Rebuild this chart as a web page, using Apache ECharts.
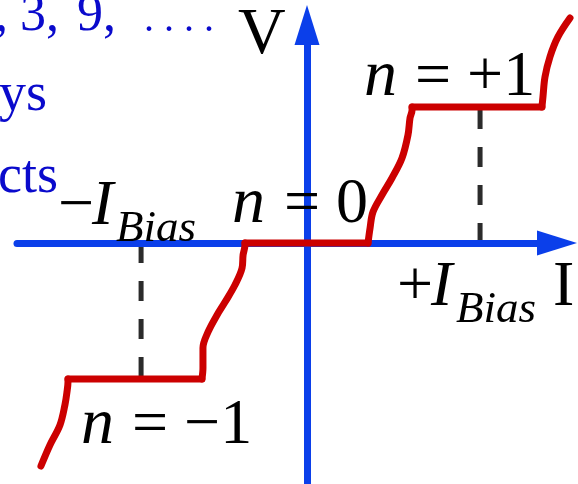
<!DOCTYPE html>
<html>
<head>
<meta charset="utf-8">
<script src="https://cdn.jsdelivr.net/npm/echarts@6/dist/echarts.min.js"></script>
<style>
  html, body { margin: 0; padding: 0; background: #ffffff; }
  #chart { width: 578px; height: 484px; }
</style>
</head>
<body>
<div id="chart"></div>
<script>
// I–V trace with Shapiro steps.
// Current in units of I_Bias, voltage in units of one step height.
const traceCurrent = [
  -1.565, -1.512, -1.453, -1.424, -1.412, -1.406, -1.406,
  -0.618, -0.612, -0.612, -0.582, -0.529, -0.482, -0.424, -0.382, -0.376, -0.365, -0.365,
   0.359,  0.371,  0.388,  0.441,  0.500,  0.559,  0.594,  0.606,  0.618,  0.618,
   1.382,  1.388,  1.400,  1.429,  1.476,  1.547
];
const traceVoltage = [
  -1.640, -1.485, -1.338, -1.191, -1.096, -1.022, -1.000,
  -1.000, -0.919, -0.772, -0.654, -0.529, -0.434, -0.309, -0.184, -0.088, -0.015,  0.000,
   0.000,  0.110,  0.228,  0.353,  0.478,  0.625,  0.794,  0.919,  0.978,  1.000,
   1.000,  1.074,  1.221,  1.368,  1.515,  1.654
];

// Bias points and the step each one sits on
const biasCurrents = [-0.976, 1.018];
const biasSteps = [-1, 1];

// Annotation texts
const stepLabels = ['n = 0', 'n = +1', 'n = \u22121'];
const sideText = [',', '3,', '9,', '. . . .', 'ys', 'cts'];

const AXIS_BLUE = '#0b3fea';
const TRACE_RED = '#cc0000';
const TEXT_BLUE = '#0a0acc';
const SERIF = '"Liberation Serif", "Times New Roman", serif';

// Both grids share one scale: 170 px per I_Bias, 136 px per step.
// Grid 0 carries the visible arrowed axes, grid 1 spans the whole canvas
// so the trace can run past the arrow heads.
const PX_PER_I = 170, PX_PER_V = 136;
const ORIGIN_X = 307, ORIGIN_Y = 243, W = 578, H = 484;
const frame = { left: 17, right: 21, top: 25, bottom: 0 };
function rangeFor(g) {
  return {
    xMin: (g.left - ORIGIN_X) / PX_PER_I,
    xMax: (W - g.right - ORIGIN_X) / PX_PER_I,
    yMin: (ORIGIN_Y - (H - g.bottom)) / PX_PER_V,
    yMax: (ORIGIN_Y - g.top) / PX_PER_V
  };
}
const full = { left: 0, right: 0, top: 0, bottom: 0 };
const r0 = rangeFor(frame), r1 = rangeFor(full);

const chart = echarts.init(document.getElementById('chart'), null, { renderer: 'canvas' });

const tracePoints = traceCurrent.map((c, i) => [c, traceVoltage[i]]);

// Split the trace into flat steps (straight) and risers (smoothed)
const pieces = [];
let current = [tracePoints[0]];
for (let i = 1; i < tracePoints.length; i++) {
  const a = tracePoints[i - 1], b = tracePoints[i];
  const isStep = a[1] === b[1] && Math.abs(b[0] - a[0]) > 0.1;
  if (isStep) {
    if (current.length > 1) pieces.push({ pts: current, flat: false });
    pieces.push({ pts: [a, b], flat: true });
    current = [b];
  } else {
    current.push(b);
  }
}
if (current.length > 1) pieces.push({ pts: current, flat: false });

const traceSeries = pieces.map(p => ({
  type: 'line',
  xAxisIndex: 1,
  yAxisIndex: 1,
  data: p.pts,
  symbol: 'none',
  smooth: p.flat ? false : 0.35,
  silent: true,
  z: 3,
  lineStyle: { color: TRACE_RED, width: 7, cap: 'round', join: 'round' }
}));

const dashSeries = biasCurrents.map((c, i) => ({
  type: 'line',
  xAxisIndex: 1,
  yAxisIndex: 1,
  data: [[c, 0], [c, biasSteps[i]]],
  symbol: 'none',
  silent: true,
  z: 1,
  lineStyle: { color: '#2b2b2b', width: 5, type: [20, 18] }
}));

// text placed by its baseline
function label(text, x, baseline, size, opts) {
  opts = opts || {};
  return {
    type: 'text',
    silent: true,
    z: 10,
    style: {
      text: text,
      x: x,
      y: baseline - 0.3375 * size,
      align: 'left',
      verticalAlign: 'middle',
      font: (opts.italic ? 'italic ' : '') + size + 'px ' + SERIF,
      fill: opts.color || '#000000'
    }
  };
}

const graphics = [
  label(sideText[0], -5, 34, 52, { color: TEXT_BLUE }),
  label(sideText[1], 20, 34, 52, { color: TEXT_BLUE }),
  label(sideText[2], 77, 34, 52, { color: TEXT_BLUE }),
  label(sideText[3], 144, 34, 40, { color: TEXT_BLUE }),
  label(sideText[4], -1, 114, 54, { color: TEXT_BLUE }),
  label(sideText[5], -2, 196, 54, { color: TEXT_BLUE }),
  label('V', 238, 58, 66),
  label('I', 553, 310, 64),
  label('n', 232, 227, 66, { italic: true }),
  label(' = 0', 268, 227, 64),
  label('n', 364, 100, 66, { italic: true }),
  label(' = +1', 399, 100, 64),
  label('n', 81, 448, 66, { italic: true }),
  label(' = \u22121', 116, 448, 64),
  label('\u2212', 58, 229, 64),
  label('I', 92, 229, 64, { italic: true }),
  label('Bias', 116, 244, 45, { italic: true }),
  label('+', 397, 310, 64),
  label('I', 431, 310, 64, { italic: true }),
  label('Bias', 456, 325, 45, { italic: true })
];

function axisLook() {
  return {
    show: true,
    onZero: true,
    symbol: ['none', 'triangle'],
    symbolSize: [25, 40],
    lineStyle: { color: AXIS_BLUE, width: 7 }
  };
}
const hidden = {
  axisLine: { show: false },
  axisTick: { show: false },
  axisLabel: { show: false },
  splitLine: { show: false }
};

chart.setOption({
  animation: false,
  backgroundColor: '#ffffff',
  grid: [
    Object.assign({ containLabel: false }, frame),
    Object.assign({ containLabel: false }, full)
  ],
  xAxis: [
    {
      type: 'value', gridIndex: 0, min: r0.xMin, max: r0.xMax, z: 2,
      axisLine: axisLook(),
      axisTick: { show: false }, axisLabel: { show: false }, splitLine: { show: false }
    },
    Object.assign({ type: 'value', gridIndex: 1, min: r1.xMin, max: r1.xMax }, hidden)
  ],
  yAxis: [
    {
      type: 'value', gridIndex: 0, min: r0.yMin, max: r0.yMax, z: 2,
      axisLine: axisLook(),
      axisTick: { show: false }, axisLabel: { show: false }, splitLine: { show: false }
    },
    Object.assign({ type: 'value', gridIndex: 1, min: r1.yMin, max: r1.yMax }, hidden)
  ],
  series: dashSeries.concat(traceSeries),
  graphic: graphics
});
</script>
</body>
</html>
